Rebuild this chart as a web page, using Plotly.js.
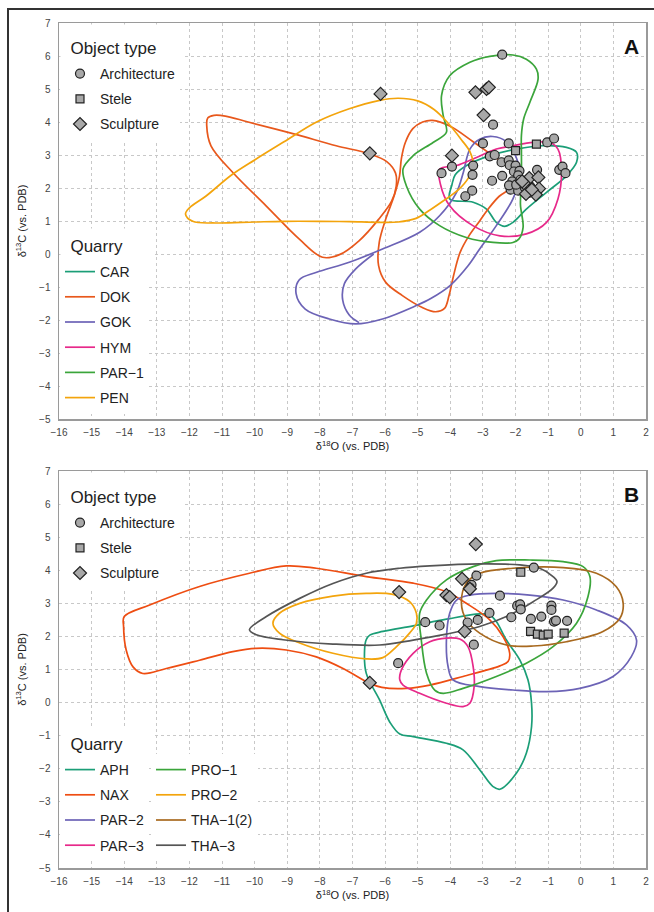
<!DOCTYPE html>
<html>
<head>
<meta charset="utf-8">
<script src="https://cdn.plot.ly/plotly-3.0.1.min.js"></script>
<style>
html,body{margin:0;padding:0;background:#fff;}
#chart{width:654px;height:912px;}
</style>
</head>
<body>
<div id="chart"></div>
<script>
// ===== Panel A : quarry outlines (δ18O, δ13C) =====
const CAR_x = [-4.02,-3.95,-3.85,-3.5,-2.79,-1.97,-1.16,-0.44,-0.13,-0.13,-0.44,-1.05,-1.67,-2.08,-2.33,-2.59,-2.89,-3.3];
const CAR_y = [1.67,2.1,2.4,2.68,2.98,3.18,3.28,3.23,3.08,2.78,2.37,1.87,1.36,0.96,0.84,0.96,1.36,1.57];

const DOK1_x = [-11.44,-11.25,-10.9,-10.2,-8.8,-7.5,-6.5,-5.95,-5.68,-5.66,-5.8,-6.2,-6.8,-7.4,-7.92,-8.63,-9.65,-10.67,-11.34,-11.47];
const DOK1_y = [4.12,4.2,4.18,4.0,3.64,3.28,3.04,2.8,2.45,2.05,1.6,1.05,0.4,-0.02,-0.1,0.45,1.46,2.47,3.28,3.89];
const DOK2_x = [-4.55,-4.0,-3.3,-2.7,-2.25,-2.0,-2.15,-2.5,-2.85,-3.1,-3.43,-3.7,-3.9,-4.04,-4.18,-4.45,-4.86,-5.47,-5.98,-6.2,-6.18,-5.98,-5.72,-5.56,-5.5,-5.38,-5.15,-4.85];
const DOK2_y = [4.05,3.87,3.4,2.98,2.65,2.3,2.0,1.75,1.35,1.0,0.55,0.05,-0.65,-1.26,-1.65,-1.75,-1.62,-1.26,-0.86,-0.35,0.35,1.06,1.77,2.35,2.9,3.38,3.8,4.0];

const GOK_x = [-3.1,-2.7,-2.28,-1.97,-1.87,-2.08,-2.59,-3.1,-3.45,-4.0,-4.6,-5.06,-6.08,-6.9,-7.71,-8.45,-8.73,-8.63,-8.12,-7.1,-6.08,-4.94,-4.33,-3.81,-3.6,-3.4];
const GOK_y = [3.48,3.56,3.4,2.9,2.37,1.67,0.86,0.15,-0.35,-0.95,-1.35,-1.57,-1.97,-2.12,-1.97,-1.67,-1.2,-0.78,-0.56,-0.25,0.15,0.66,1.16,1.87,2.48,3.18];
const GOKin_x = [-6.35,-6.9,-7.25,-7.3,-7.1,-6.8];
const GOKin_y = [0.0,-0.45,-0.9,-1.4,-1.85,-2.08];

const HYM_x = [-4.33,-4.3,-4.02,-3.31,-2.48,-1.67,-1.05,-0.7,-0.59,-0.7,-0.95,-1.46,-2.08,-2.59,-3.3,-3.81];
const HYM_y = [2.57,2.1,1.46,0.86,0.55,0.61,0.96,1.67,2.48,3.18,3.38,3.38,3.28,3.18,2.88,2.68];

const PAR1_x = [-2.79,-2.08,-1.67,-1.36,-1.31,-1.56,-1.75,-1.82,-1.82,-1.82,-1.85,-1.77,-1.9,-2.08,-2.69,-3.51,-4.33,-4.94,-5.35,-5.45,-5.14,-4.53,-4.12,-4.22,-4.27,-4.02,-3.4];
const PAR1_y = [5.99,6.03,5.9,5.6,5.3,4.6,4.1,3.6,3.08,2.2,1.5,0.8,0.45,0.35,0.35,0.5,0.86,1.36,2.07,2.58,2.98,3.38,3.69,4.2,4.8,5.4,5.81];

const PEN_x = [-12.12,-11.9,-11.2,-10.0,-9.1,-8.0,-7.1,-6.2,-5.6,-5.05,-4.6,-4.2,-3.75,-3.45,-3.3,-3.4,-3.65,-4.1,-4.5,-5.0,-5.6,-6.2,-7.1,-8.1,-9.1,-10.0,-10.7,-11.5,-12.0];
const PEN_y = [1.21,0.99,0.94,0.97,0.99,0.99,0.98,0.96,0.97,1.08,1.35,1.62,1.95,2.3,2.7,3.1,3.45,4.0,4.38,4.64,4.72,4.65,4.4,4.0,3.4,2.85,2.4,1.75,1.4];

// ===== Panel A : samples =====
const A_arch_x = [-2.41,-2.69,-3.0,-2.21,-1.03,-0.82,-3.95,-4.27,-3.3,-3.32,-2.79,-2.64,-2.43,-2.21,-2.18,-2.0,-2.41,-2.72,-3.33,-3.54,-1.34,-0.66,-0.56,-0.47,-2.05,-1.88,-1.92,-2.1,-1.85,-2.15,-1.92,-1.55,-1.6,-2.2,-1.72,-1.98];
const A_arch_y = [6.04,3.92,3.35,3.35,3.38,3.5,2.65,2.45,2.68,2.4,2.96,3.0,2.78,2.84,2.69,2.68,2.37,2.22,1.92,1.75,2.55,2.55,2.65,2.45,2.5,2.52,2.38,2.2,2.25,1.95,1.92,2.05,1.85,2.08,2.02,2.1];
const A_stele_x = [-2.0,-1.36];
const A_stele_y = [3.13,3.33];
const A_sculp_x = [-6.14,-6.47,-3.23,-2.89,-2.82,-2.98,-3.95,-1.58,-1.3,-1.28,-1.38,-1.68,-1.75,-1.8,-1.5];
const A_sculp_y = [4.85,3.05,4.9,5.0,5.05,4.21,2.98,2.3,2.32,1.98,1.8,1.82,2.15,2.2,1.95];

// ===== Panel B : quarry outlines =====
const APH_x = [-6.47,-6.07,-5.14,-4.12,-3.1,-2.79,-2.59,-2.28,-1.87,-1.62,-1.51,-1.51,-1.67,-1.97,-2.48,-2.69,-3.1,-3.61,-4.12,-5.14,-5.55,-5.85,-6.17,-6.58,-6.63,-6.58];
const APH_y = [2.04,2.15,2.32,2.52,2.68,2.65,2.45,1.89,1.29,0.69,-0.02,-0.73,-1.53,-2.13,-2.62,-2.54,-2.03,-1.43,-1.23,-1.03,-0.95,-0.6,0.08,0.89,1.59,1.9];

const NAX_x = [-14.0,-13.22,-11.69,-10.16,-9.03,-8.11,-6.58,-5.14,-4.12,-3.51,-2.79,-2.38,-2.18,-2.23,-2.48,-3.61,-4.63,-5.35,-6.1,-6.47,-7.29,-8.11,-9.03,-9.95,-10.67,-11.69,-12.71,-13.43,-13.73,-13.94,-14.02];
const NAX_y = [2.6,2.95,3.51,3.91,4.13,4.06,3.81,3.61,3.35,3.0,2.5,1.99,1.49,1.24,1.11,0.79,0.53,0.43,0.46,0.58,1.03,1.38,1.59,1.64,1.54,1.28,1.03,0.88,1.08,1.59,2.3];

const PAR2_x = [-3.81,-3.4,-2.59,-1.56,-0.54,0.48,1.4,1.71,1.55,0.99,-0.03,-1.05,-2.08,-3.1,-3.92,-4.07,-4.12,-4.02];
const PAR2_y = [3.1,3.25,3.3,3.25,3.1,2.8,2.35,1.89,1.39,0.79,0.43,0.33,0.38,0.48,0.69,1.09,1.89,2.7];

const PAR3_x = [-5.55,-5.5,-5.14,-4.63,-4.12,-3.71,-3.46,-3.3,-3.27,-3.4,-3.61,-4.12,-4.94,-5.45];
const PAR3_y = [0.69,0.99,1.49,1.84,1.95,1.92,1.69,1.09,0.48,-0.02,-0.12,-0.02,0.28,0.53];

const PRO1_x = [-4.94,-4.89,-4.73,-4.48,-4.22,-3.61,-2.59,-1.67,-0.85,-0.13,0.22,0.28,0.07,-0.54,-1.56,-2.59,-3.3,-4.12,-4.73];
const PRO1_y = [2.7,1.89,0.89,0.38,0.28,0.43,0.79,1.19,1.69,2.4,3.2,3.81,4.11,4.26,4.31,4.29,4.11,3.71,3.1];

const PRO2_x = [-9.44,-9.24,-8.62,-7.6,-6.58,-5.76,-5.25,-5.04,-5.04,-5.25,-5.65,-6.07,-6.58,-7.6,-8.62,-9.24];
const PRO2_y = [2.4,2.7,3.0,3.22,3.3,3.27,3.05,2.7,2.4,2.1,1.69,1.36,1.32,1.49,1.8,2.1];

const THA12_x = [-3.66,-3.51,-3.1,-2.08,-0.54,0.48,1.09,1.3,1.2,0.68,-0.44,-1.46,-2.28,-3.1,-3.51];
const THA12_y = [3.0,3.61,3.91,4.06,4.08,3.91,3.5,3.0,2.55,2.15,1.84,1.71,1.74,2.1,2.5];

const THA3_x = [-10.16,-9.64,-8.62,-7.6,-6.58,-5.55,-4.63,-3.1,-1.87,-1.26,-0.85,-0.73,-0.85,-1.46,-2.28,-3.1,-4.12,-5.14,-6.17,-7.6,-9.13,-9.95];
const THA3_y = [2.2,2.6,3.15,3.6,3.91,4.06,4.13,4.19,4.16,4.06,3.81,3.66,3.46,3.05,2.6,2.3,2.07,1.89,1.74,1.77,1.9,2.05];

// ===== Panel B : samples =====
const B_arch_x = [-1.44,-3.2,-3.35,-3.4,-2.48,-1.95,-1.86,-1.84,-0.9,-0.9,-2.13,-1.53,-1.21,-0.82,-0.76,-0.42,-2.8,-3.16,-3.47,-4.33,-4.77,-3.28,-5.6];
const B_arch_y = [4.08,3.84,3.56,3.47,3.23,2.93,2.97,2.82,2.93,2.8,2.58,2.53,2.6,2.45,2.48,2.47,2.71,2.5,2.42,2.33,2.43,1.75,1.19];
const B_stele_x = [-1.84,-1.54,-1.33,-1.15,-1.0,-0.51];
const B_stele_y = [3.94,2.15,2.07,2.04,2.07,2.1];
const B_sculp_x = [-3.22,-5.57,-3.64,-4.12,-4.02,-3.4,-3.56,-6.47];
const B_sculp_y = [4.79,3.34,3.74,3.25,3.19,3.44,2.15,0.6];

// ===== labels =====
const objectTypes = ['Architecture','Stele','Sculpture'];
const quarriesA = ['CAR','DOK','GOK','HYM','PAR\u22121','PEN'];
const quarriesB = ['APH','NAX','PAR\u22122','PAR\u22123','PRO\u22121','PRO\u22122','THA\u22121(2)','THA\u22123'];
const legendTitles = ['Object type','Quarry'];
const panelLabels = ['A','B'];

// ===== helpers =====
function closed(xs, ys){ return {x: xs.concat([xs[0]]), y: ys.concat([ys[0]])}; }
function joinParts(parts){
  let x=[], y=[];
  parts.forEach((p,i)=>{ if(i){x.push(null);y.push(null);} x=x.concat(p.x); y=y.concat(p.y); });
  return {x, y};
}
const FONT = 'Liberation Sans, Arial, Helvetica, sans-serif';
function outline(d, name, color, xa, ya, leg){
  return {type:'scatter', mode:'lines', x:d.x, y:d.y, name:name, legend:leg, legendgroup:leg+name,
    xaxis:xa, yaxis:ya, hoverinfo:'skip',
    line:{color:color, width:1.7, shape:'spline', smoothing:1}};
}
function pts(xs, ys, name, symbol, size, xa, ya, leg){
  return {type:'scatter', mode:'markers', x:xs, y:ys, name:name, legend:leg, legendgroup:leg+name,
    xaxis:xa, yaxis:ya,
    marker:{symbol:symbol, size:size, color:'#a8a8a8', line:{color:'#222', width:1.2}}};
}
const C = {teal:'#1b9e77', dok:'#e8581c', nax:'#ee4d12', purple:'#6c63b6', pink:'#e7298a', green:'#3ba53b', yellow:'#f3a40c', brown:'#a8691f', grey:'#555555'};

const traces = [
  outline(closed(CAR_x,CAR_y), quarriesA[0], C.teal, 'x','y','legend2'),
  outline(joinParts([closed(DOK1_x,DOK1_y), closed(DOK2_x,DOK2_y)]), quarriesA[1], C.dok, 'x','y','legend2'),
  outline(joinParts([closed(GOK_x,GOK_y), {x:GOKin_x, y:GOKin_y}]), quarriesA[2], C.purple, 'x','y','legend2'),
  outline(closed(HYM_x,HYM_y), quarriesA[3], C.pink, 'x','y','legend2'),
  outline(closed(PAR1_x,PAR1_y), quarriesA[4], C.green, 'x','y','legend2'),
  outline(closed(PEN_x,PEN_y), quarriesA[5], C.yellow, 'x','y','legend2'),
  pts(A_arch_x, A_arch_y, objectTypes[0], 'circle', 9, 'x','y','legend'),
  pts(A_stele_x, A_stele_y, objectTypes[1], 'square', 8, 'x','y','legend'),
  pts(A_sculp_x, A_sculp_y, objectTypes[2], 'diamond', 10, 'x','y','legend'),

  outline(closed(APH_x,APH_y), quarriesB[0], C.teal, 'x2','y2','legend4'),
  outline(closed(NAX_x,NAX_y), quarriesB[1], C.nax, 'x2','y2','legend4'),
  outline(closed(PAR2_x,PAR2_y), quarriesB[2], C.purple, 'x2','y2','legend4'),
  outline(closed(PAR3_x,PAR3_y), quarriesB[3], C.pink, 'x2','y2','legend4'),
  outline(closed(PRO1_x,PRO1_y), quarriesB[4], C.green, 'x2','y2','legend5'),
  outline(closed(PRO2_x,PRO2_y), quarriesB[5], C.yellow, 'x2','y2','legend5'),
  outline(closed(THA12_x,THA12_y), quarriesB[6], C.brown, 'x2','y2','legend5'),
  outline(closed(THA3_x,THA3_y), quarriesB[7], C.grey, 'x2','y2','legend5'),
  pts(B_arch_x, B_arch_y, objectTypes[0], 'circle', 9, 'x2','y2','legend3'),
  pts(B_stele_x, B_stele_y, objectTypes[1], 'square', 8, 'x2','y2','legend3'),
  pts(B_sculp_x, B_sculp_y, objectTypes[2], 'diamond', 10, 'x2','y2','legend3')
];

const W = 654, H = 912;
const xDom = [59/W, 646/W];
const yDomA = [1-419/H, 1-23/H];
const yDomB = [1-868/H, 1-471/H];

function xax(anchor){
  return {domain:xDom, anchor:anchor, range:[-16,2], tick0:0, dtick:1, autorange:false,
    showline:true, mirror:true, linecolor:'#9a9a9a', linewidth:1.5,
    showgrid:true, gridcolor:'#c8c8c8', griddash:'dot', gridwidth:1, zeroline:false,
    ticks:'outside', ticklen:3, tickcolor:'rgba(0,0,0,0)',
    tickfont:{family:FONT, size:10, color:'#444'},
    title:{text:'\u03b4<sup>18</sup>O (vs. PDB)', font:{family:FONT, size:11, color:'#222'}, standoff:6}};
}
function yax(dom, anchor){
  return {domain:dom, anchor:anchor, range:[-5,7], tick0:0, dtick:1, autorange:false,
    showline:true, mirror:true, linecolor:'#9a9a9a', linewidth:1.5,
    showgrid:true, gridcolor:'#c8c8c8', griddash:'dot', gridwidth:1, zeroline:false,
    ticks:'outside', ticklen:5, tickcolor:'rgba(0,0,0,0)',
    tickfont:{family:FONT, size:10, color:'#444'},
    title:{text:'\u03b4<sup>13</sup>C (vs. PDB)', font:{family:FONT, size:11, color:'#222'}, standoff:10}};
}
function leg(xpx, toppx){
  return {x:xpx/W, y:1-toppx/H, xanchor:'left', yanchor:'top', bgcolor:'#ffffff', borderwidth:0,
    font:{family:FONT, size:14, color:'#222'}, traceorder:'grouped', tracegroupgap:4,
    itemclick:false, itemdoubleclick:false};
}
function legTitle(text, xpx, toppx, wpx, hpx){
  return {xref:'paper', yref:'paper', x:xpx/W, y:1-toppx/H, xanchor:'left', yanchor:'top',
    width:wpx, height:hpx, align:'left', valign:'bottom', borderpad:0, bgcolor:'#ffffff',
    showarrow:false, text:'\u00a0\u00a0'+text, font:{family:FONT, size:17, color:'#222'}};
}
function panelLabel(text, xa, ya){
  return {xref:xa+' domain', yref:ya+' domain', x:0.992, y:0.975, xanchor:'right', yanchor:'top', showarrow:false,
    text:'<b>'+text+'</b>', font:{family:FONT, size:21, color:'#111'}};
}

const layout = {
  width:W, height:H, margin:{l:0,r:0,t:0,b:0}, paper_bgcolor:'#fff', plot_bgcolor:'#fff',
  showlegend:true, font:{family:FONT},
  xaxis:xax('y'), yaxis:yax(yDomA,'x'),
  xaxis2:xax('y2'), yaxis2:yax(yDomB,'x2'),
  legend: leg(60, 58),
  legend2: leg(60, 256),
  legend3: leg(60, 507),
  legend4: leg(60, 754),
  legend5: leg(151, 754),
  annotations:[
    legTitle(legendTitles[0], 60, 24, 122, 33),
    legTitle(legendTitles[1], 60, 228, 92, 27),
    legTitle(legendTitles[0], 60, 472, 122, 34),
    legTitle(legendTitles[1], 60, 726, 92, 27),
    panelLabel(panelLabels[0], 'x', 'y'),
    panelLabel(panelLabels[1], 'x2', 'y2')
  ],
  shapes:[
    {type:'rect', xref:'paper', yref:'paper', x0:8/W, x1:1.05, y0:-0.05, y1:1-9/H, line:{color:'#333', width:2}, fillcolor:'rgba(0,0,0,0)', layer:'below'}
  ]
};

Plotly.newPlot('chart', traces, layout, {staticPlot:true, displayModeBar:false});
</script>
</body>
</html>
